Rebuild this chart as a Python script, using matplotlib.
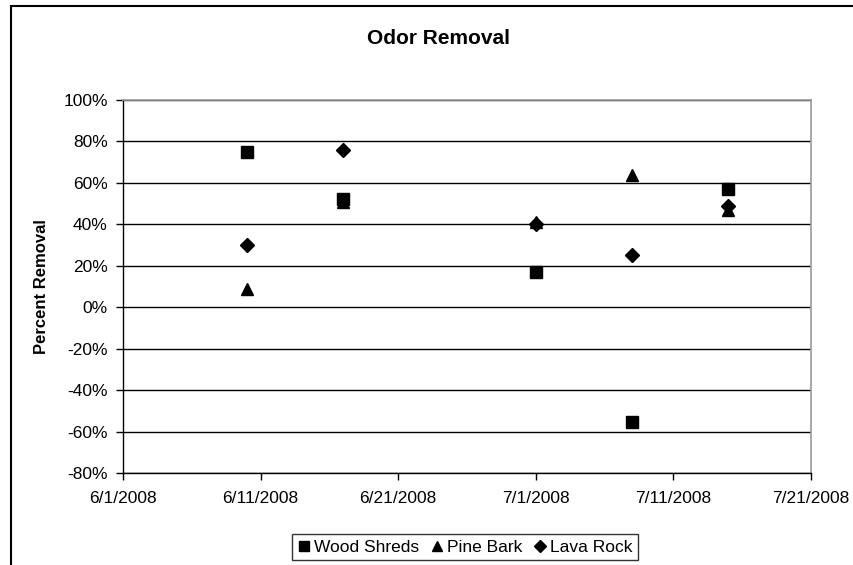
import datetime as dt
import matplotlib
matplotlib.use("Agg")
import matplotlib.pyplot as plt
import matplotlib.dates as mdates
from matplotlib.patches import Rectangle
from matplotlib.ticker import FuncFormatter, MultipleLocator

plt.rcParams['font.family'] = ['Liberation Sans', 'DejaVu Sans']

# sampling dates
dates = [dt.datetime(2008, 6, 10), dt.datetime(2008, 6, 17), dt.datetime(2008, 7, 1),
         dt.datetime(2008, 7, 8), dt.datetime(2008, 7, 15)]

# percent removal per media
wood_shreds = [75, 52, 17, -55.5, 57]
pine_bark = [9, 51, 41, 64, 47]
lava_rock = [30, 76, 40, 25, 49]

series = [
    ("Wood Shreds", wood_shreds, "s", 8),
    ("Pine Bark", pine_bark, "^", 8.5),
    ("Lava Rock", lava_rock, "D", 7),
]

fig = plt.figure(figsize=(8.54, 5.65), dpi=100)
ax = fig.add_axes([123 / 854, 1 - 473 / 565, (811 - 123) / 854, (473 - 100) / 565])

for name, vals, marker, ms in series:
    ax.plot(dates, vals, linestyle="none", marker=marker, markersize=ms,
            color="black", label=name, zorder=3)

ax.set_xlim(dt.datetime(2008, 6, 1), dt.datetime(2008, 7, 21))
ax.set_ylim(-80, 100)
ax.xaxis.set_major_locator(mdates.DayLocator(bymonthday=[1, 11, 21]))
ax.xaxis.set_major_formatter(FuncFormatter(
    lambda x, pos: "{d.month}/{d.day}/{d.year}".format(d=mdates.num2date(x))))
ax.yaxis.set_major_locator(MultipleLocator(20))
ax.yaxis.set_major_formatter(FuncFormatter(lambda y, pos: f"{y:.0f}%"))

ax.grid(axis="y", color="black", linewidth=1)
ax.set_axisbelow(True)
ax.tick_params(axis="both", direction="out", length=5, width=1, labelsize=12.5,
               colors="black", pad=6)
ax.tick_params(axis="x", pad=8)
for side in ["top", "right"]:
    ax.spines[side].set_color("#999999")
    ax.spines[side].set_linewidth(1.2)
for side in ["left", "bottom"]:
    ax.spines[side].set_color("black")
    ax.spines[side].set_linewidth(1)

ax.set_ylabel("Percent Removal", fontsize=12, fontweight="bold", labelpad=10)
fig.text(439 / 854, 1 - 39 / 565, "Odor Removal",
         ha="center", va="center", fontsize=15, fontweight="bold")

leg = fig.legend(loc="center", bbox_to_anchor=(465 / 854, 1 - 547 / 565), ncol=3,
                 frameon=True, fancybox=False, edgecolor="black", fontsize=12.5,
                 handlelength=0.8, handletextpad=0.2, columnspacing=0.6,
                 borderpad=0.3, markerscale=0.9)
leg.get_frame().set_linewidth(1)

# chart outer border
fig.patches.append(Rectangle((11 / 854, -0.1), 1.0, 1 - 6 / 565 + 0.1,
                             transform=fig.transFigure, fill=False,
                             edgecolor="black", linewidth=1.5))

fig.savefig("out.png", dpi=100)
